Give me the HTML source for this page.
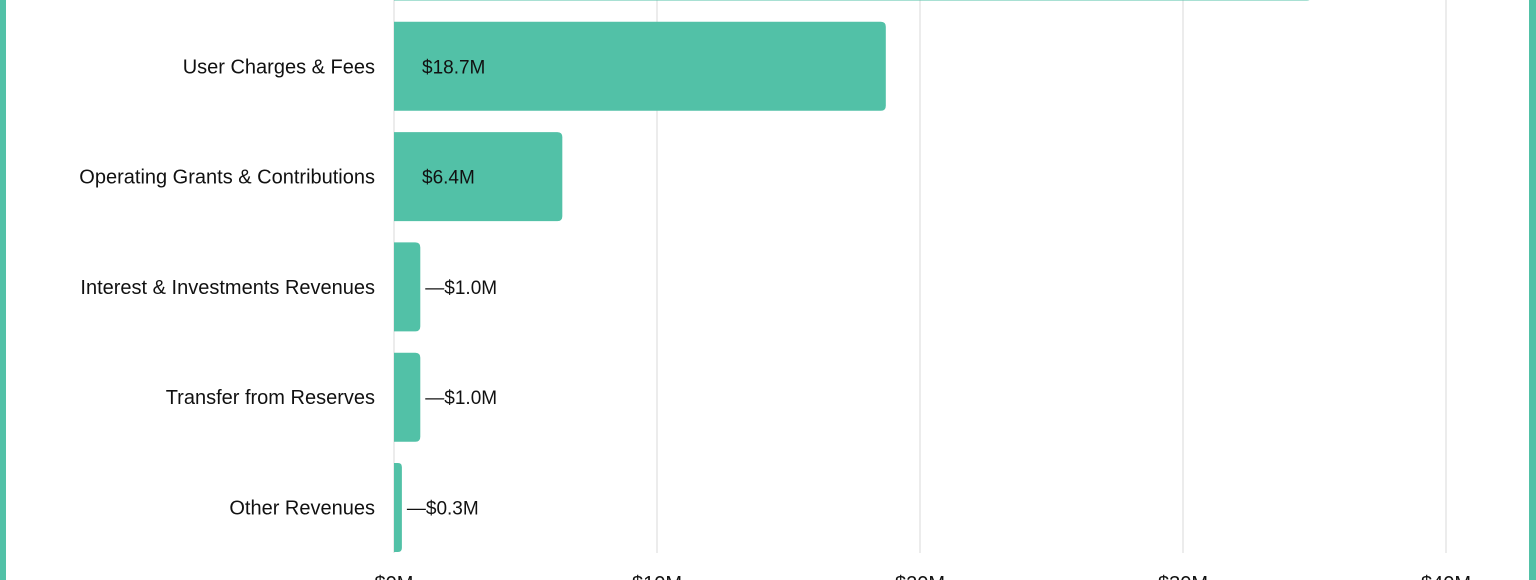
<!DOCTYPE html>
<html><head><meta charset="utf-8"><style>
html,body{margin:0;padding:0;background:#fff;}
body{width:1536px;height:580px;overflow:hidden;position:relative;font-family:"Liberation Sans",sans-serif;}
.bl{position:absolute;left:0;top:0;width:6px;height:580px;background:#52c1a7;}
.br{position:absolute;right:0;top:0;width:7px;height:580px;background:#52c1a7;}
svg{position:absolute;left:0;top:0;}
</style></head><body>
<div class="bl"></div>
<div class="br"></div>
<svg id="chart" width="1536" height="580"></svg>
<script>
const categories=["Taxation","User Charges & Fees","Operating Grants & Contributions","Interest & Investments Revenues","Transfer from Reserves","Other Revenues"];
const values=[34.9,18.7,6.4,1.0,1.0,0.3];
const valueLabels=["$34.9M","$18.7M","$6.4M","$1.0M","$1.0M","$0.3M"];
const tickValues=[0,10,20,30,40];
const tickLabels=["$0M","$10M","$20M","$30M","$40M"];
const NS="http://www.w3.org/2000/svg";
const svg=document.getElementById('chart');
const x0=394,pxPer=26.3;
const xs=v=>x0+v*pxPer;
const rowStart=-44,rowStep=110.3,barH=89;
const yc=i=>rowStart+i*rowStep;
function mk(t,a){const e=document.createElementNS(NS,t);for(const k in a)e.setAttribute(k,a[k]);svg.appendChild(e);return e;}
tickValues.forEach((t,i)=>{
  const g=mk('line',{x1:xs(t),x2:xs(t),y1:0,y2:553,stroke:'#d9d9d9','stroke-width':1});
  
  
  const tx=mk('text',{x:xs(t),y:590,'text-anchor':'middle','font-size':20,fill:'#111'});
  tx.textContent=tickLabels[i];
  
  
});
categories.forEach((c,i)=>{
  const y=yc(i)-barH/2, w=xs(values[i])-x0, r=Math.min(5,w/2);
  const p=mk('path',{d:`M${x0},${y}H${x0+w-r}Q${x0+w},${y} ${x0+w},${y+r}V${y+barH-r}Q${x0+w},${y+barH} ${x0+w-r},${y+barH}H${x0}Z`,fill:'#52c1a7'});
  
  
  const l=mk('text',{x:375,y:yc(i)+7,'text-anchor':'end','font-size':20,fill:'#111'});
  l.textContent=c;
  
  
  const inside=w>100;
  const v=mk('text',{x:inside?x0+28:x0+w+5,y:yc(i)+7,'font-size':19,fill:'#111'});
  v.textContent=(inside?'':'\u2014')+valueLabels[i];
  
  
});
</script>
</body></html>
